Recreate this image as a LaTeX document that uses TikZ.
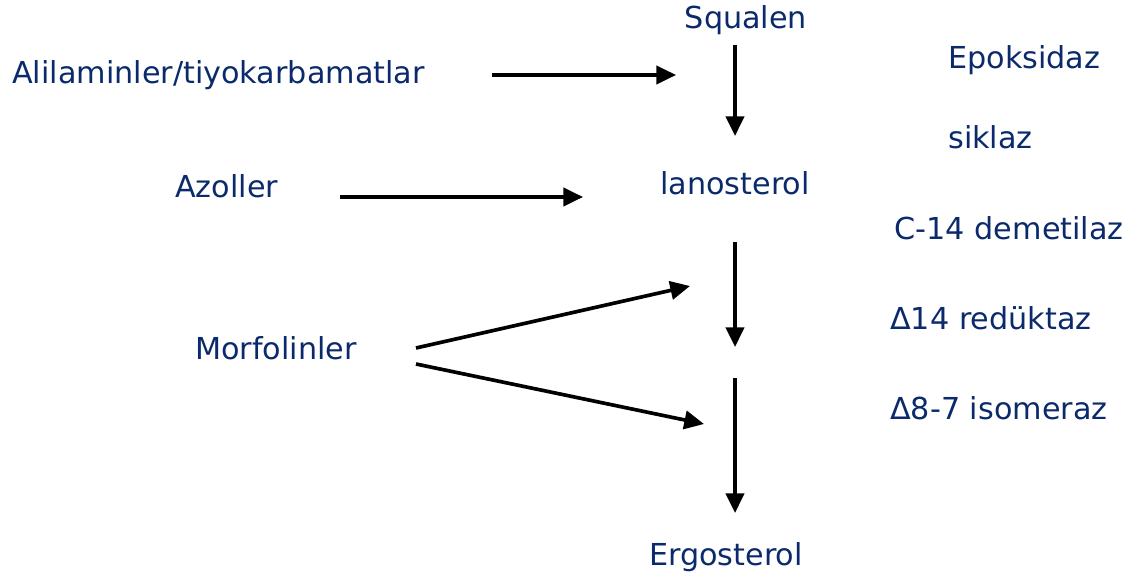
\documentclass[tikz,border=0pt]{standalone}
\usepackage{fontspec}
\setmainfont{DejaVu Sans}
\usepackage{xcolor}
\usetikzlibrary{arrows.meta, positioning}
\definecolor{navy}{HTML}{0B2A6B}
\tikzset{
    pathway/.style={x=0.025cm, y=-0.025cm, font=\fontsize{21.5}{24}\selectfont},
    label/.style={text=navy, inner sep=0pt},
    drug/.style={label, anchor=west},
    enzyme/.style={label, anchor=west},
    arr/.style={-{Triangle[length=14pt, width=13pt]}, line width=2.6pt},
}

\begin{document}
\begin{tikzpicture}[pathway]
            \useasboundingbox (0,0) rectangle (1130,583);

            % sterol pathway
            \node[label] (squalen) at (746,20)  {Squalen};
            \node[label] (lano)    at (735,183) {lanosterol};
            \node[label] (ergo)    at (726,557) {Ergosterol};

            % inhibitors
            \node[drug] (alil)  at (12,75)   {Alilaminler/tiyokarbamatlar};
            \node[drug] (azol)  at (175,186) {Azoller};
            \node[drug] (morf)  at (195,348) {Morfolinler};

            % enzymes
            \node[enzyme] (epok) at (948,60)  {Epoksidaz};
            \node[enzyme] (sikl) at (948,137) {siklaz};
            \node[enzyme, anchor=east] (demt) at (1124,228) {C-14 demetilaz};
            \node[enzyme] (redk) at (890,318) {Δ14 redüktaz};
            \node[enzyme] (isom) at (890,408) {Δ8-7 isomeraz};

            % arrow ends
            \coordinate (a1s) at (492,75);  \coordinate (a1e) at (676,75);
            \coordinate (a2s) at (340,197); \coordinate (a2e) at (583,197);
            \coordinate (a3s) at (416,348); \coordinate (a3e) at (690,286);
            \coordinate (a4s) at (416,364); \coordinate (a4e) at (704,424);
            \coordinate (v1s) at (735,45);  \coordinate (v1e) at (735,136);
            \coordinate (v2s) at (735,242); \coordinate (v2e) at (735,347);
            \coordinate (v3s) at (735,378); \coordinate (v3e) at (735,513);

            \draw[arr] (a1s) -- (a1e);
            \draw[arr] (a2s) -- (a2e);
            \draw[arr] (a3s) -- (a3e);
            \draw[arr] (a4s) -- (a4e);
            \draw[arr] (v1s) -- (v1e);
            \draw[arr] (v2s) -- (v2e);
            \draw[arr] (v3s) -- (v3e);
        \end{tikzpicture}
\end{document}
